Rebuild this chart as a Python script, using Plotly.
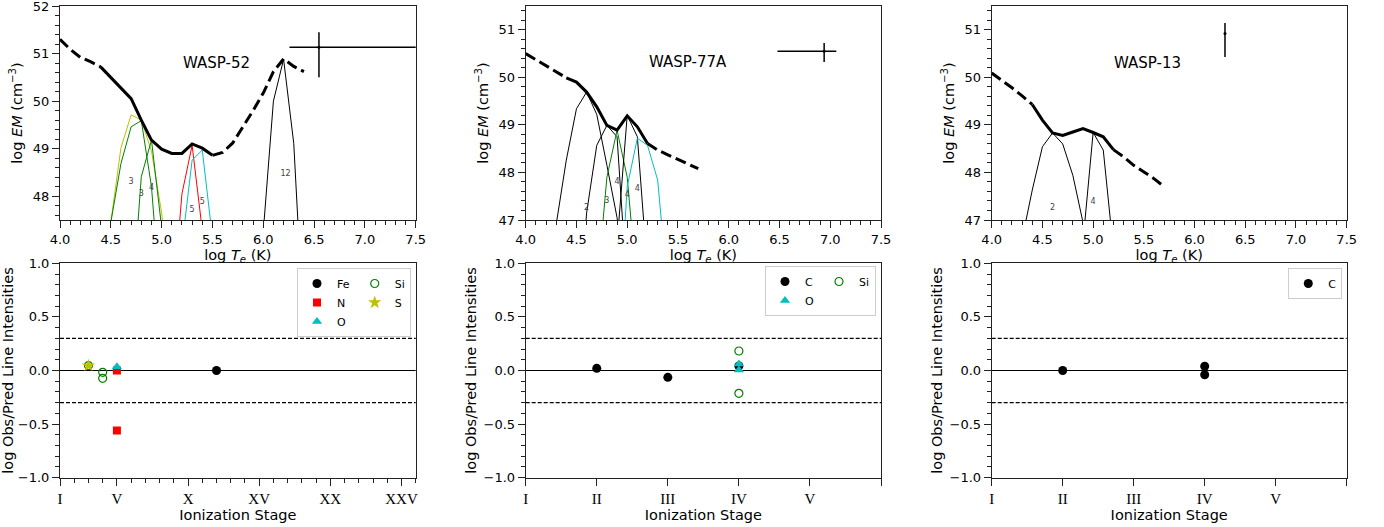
import plotly.graph_objects as go
from plotly.subplots import make_subplots

# ---------------- data: top row (EM distributions) ----------------
logT52 = [4.0, 4.1, 4.2, 4.3, 4.4, 4.5, 4.6, 4.7, 4.8, 4.9, 5.0, 5.1, 5.2,
          5.3, 5.4, 5.5, 5.6, 5.7, 5.8, 5.9, 6.0, 6.1, 6.2, 6.3, 6.4]
em52 = [51.30, 51.09, 50.92, 50.83, 50.72, 50.50, 50.28, 50.05, 49.60, 49.18,
        48.99, 48.90, 48.90, 49.10, 49.01, 48.86, 48.92, 49.12, 49.45, 49.80,
        50.17, 50.62, 50.89, 50.73, 50.62]
solid52 = (4.4, 5.5)

logT77 = [4.0, 4.1, 4.2, 4.3, 4.4, 4.5, 4.6, 4.7, 4.8, 4.9, 5.0, 5.1, 5.2,
          5.3, 5.4, 5.5, 5.6, 5.7]
em77 = [50.50, 50.37, 50.25, 50.11, 49.99, 49.90, 49.69, 49.38, 48.99, 48.89,
        49.19, 48.96, 48.61, 48.47, 48.37, 48.27, 48.17, 48.08]
solid77 = (4.4, 5.2)

logT13 = [4.0, 4.1, 4.2, 4.3, 4.4, 4.5, 4.6, 4.7, 4.8, 4.9, 5.0, 5.1, 5.2,
          5.3, 5.4, 5.5, 5.6, 5.7]
em13 = [50.09, 49.94, 49.78, 49.61, 49.43, 49.10, 48.83, 48.78, 48.85, 48.92,
        48.84, 48.75, 48.48, 48.33, 48.15, 48.01, 47.87, 47.70]
solid13 = (4.4, 5.2)

# contribution curves (color, logT, logEM)
contrib52 = [
    ("#bfbf00", [4.4, 4.5, 4.6, 4.7, 4.8, 4.9, 5.0, 5.1], [45.5, 47.45, 49.02, 49.71, 49.60, 48.95, 47.65, 45.5]),
    ("#008000", [4.4, 4.5, 4.6, 4.7, 4.8, 4.9, 5.0], [45.5, 47.45, 48.69, 49.46, 49.59, 48.2, 45.5]),
    ("#008000", [4.7, 4.8, 4.9, 5.0, 5.1], [45.5, 48.41, 49.18, 47.65, 45.5]),
    ("#ff0000", [5.1, 5.2, 5.3, 5.4, 5.5], [45.5, 48.05, 49.07, 47.45, 45.5]),
    ("#00bfbf", [5.1, 5.2, 5.3, 5.4, 5.5, 5.6], [44.5, 46.96, 48.76, 48.97, 47.13, 44.5]),
    ("#000000", [5.9, 6.0, 6.1, 6.2, 6.3, 6.4], [44.5, 47.3, 50.0, 50.88, 49.11, 45.1]),
]
contrib77 = [
    ("#000000", [4.2, 4.3, 4.4, 4.5, 4.6, 4.7, 4.8, 4.9, 5.0], [44.5, 46.9, 48.26, 49.34, 49.69, 49.22, 48.15, 47.05, 45.0]),
    ("#000000", [4.5, 4.6, 4.7, 4.8, 4.9, 5.0], [44.5, 47.15, 48.57, 48.99, 48.75, 45.5]),
    ("#008000", [4.7, 4.8, 4.9, 5.0, 5.1], [45.5, 47.9, 48.89, 47.9, 45.5]),
    ("#000000", [4.8, 4.9, 5.0, 5.1, 5.2], [42.0, 46.5, 49.2, 48.75, 45.9]),
    ("#00bfbf", [4.9, 5.0, 5.1, 5.2, 5.3, 5.4], [44.2, 47.7, 48.72, 48.57, 47.84, 45.5]),
]
contrib13 = [
    ("#000000", [4.2, 4.3, 4.4, 4.5, 4.6, 4.7, 4.8, 4.9, 5.0], [44.5, 46.6, 47.63, 48.54, 48.83, 48.6, 47.94, 46.95, 45.0]),
    ("#000000", [4.8, 4.9, 5.0, 5.1, 5.2], [42.0, 46.54, 48.84, 48.47, 46.37]),
]

# small ion-stage labels (text, logT, logEM)
lab52_txt = ["3", "3", "4", "5", "5", "12"]
lab52_x = [4.70, 4.80, 4.90, 5.30, 5.40, 6.22]
lab52_y = [48.30, 48.04, 48.17, 47.72, 47.88, 48.46]
lab77_txt = ["2", "3", "4", "4", "4"]
lab77_x = [4.60, 4.80, 4.90, 5.00, 5.10]
lab77_y = [47.25, 47.39, 47.80, 47.53, 47.66]
lab13_txt = ["2", "4"]
lab13_x = [4.60, 5.00]
lab13_y = [47.25, 47.38]

# X-ray points with error bars (x, y, x-, x+, y+, y-)
xr52 = [6.548, 51.13, 0.29, 1.20, 0.32, 0.63]
xr77 = [6.94, 50.55, 0.46, 0.12, 0.17, 0.23]
xr13 = [6.30, 50.92, 0.0, 0.0, 0.22, 0.49]

star_names = ["WASP-52", "WASP-77A", "WASP-13"]
name_x = [5.54, 5.60, 5.54]
name_y = [50.81, 50.32, 50.30]

# ---------------- data: bottom row (residuals) ----------------
# WASP-52
fe52_x, fe52_y = [12], [0.0]
n52_x, n52_y = [5, 5], [0.0, -0.56]
o52_x, o52_y = [5], [0.035]
si52_x, si52_y = [3, 4, 4], [0.046, -0.017, -0.073]
s52_x, s52_y = [3], [0.045]
# WASP-77A
c77_x, c77_y = [2, 3, 4], [0.02, -0.064, 0.042]
o77_x, o77_y = [4, 4], [0.06, 0.005]
si77_x, si77_y = [4, 4], [0.182, -0.213]
# WASP-13
c13_x, c13_y = [2, 4, 4], [0.0, 0.04, -0.04]

roman52_vals = [1, 5, 10, 15, 20, 25]
roman52_text = ["I", "V", "X", "XV", "XX", "XXV"]
roman_vals = [1, 2, 3, 4, 5]
roman_text = ["I", "II", "III", "IV", "V"]
top_tickvals = [[48, 49, 50, 51, 52], [47, 48, 49, 50, 51], [47, 48, 49, 50, 51]]

# ---------------- figure ----------------
W, H = 1384, 527
fig = make_subplots(rows=2, cols=3)

FONT = "DejaVu Sans"
AX = "#222222"

def em_curve(xs, ys, lo, hi, col):
    def seg(cond):
        px = [x for x in xs if cond(x)]
        py = [y for x, y in zip(xs, ys) if cond(x)]
        return px, py
    a = seg(lambda x: x <= lo + 1e-9)
    b = seg(lambda x: lo - 1e-9 <= x <= hi + 1e-9)
    c = seg(lambda x: x >= hi - 1e-9)
    for (px, py), dash in ((a, "11px,5px"), (b, "solid"), (c, "11px,5px")):
        fig.add_trace(go.Scatter(x=px, y=py, mode="lines",
                                 line=dict(color="black", width=3, dash=dash),
                                 showlegend=False, hoverinfo="skip"), row=1, col=col)

tops = [
    (logT52, em52, solid52, contrib52, (lab52_txt, lab52_x, lab52_y), xr52),
    (logT77, em77, solid77, contrib77, (lab77_txt, lab77_x, lab77_y), xr77),
    (logT13, em13, solid13, contrib13, (lab13_txt, lab13_x, lab13_y), xr13),
]
for i, (lt, em, sol, contrib, labs, xr) in enumerate(tops):
    col = i + 1
    for c, xs, ys in contrib:
        fig.add_trace(go.Scatter(x=xs, y=ys, mode="lines", line=dict(color=c, width=1),
                                 showlegend=False, hoverinfo="skip"), row=1, col=col)
    em_curve(lt, em, sol[0], sol[1], col)
    fig.add_trace(go.Scatter(x=labs[1], y=labs[2], text=labs[0], mode="text",
                             textfont=dict(family=FONT, size=8, color="#444444"),
                             showlegend=False, hoverinfo="skip"), row=1, col=col)
    fig.add_trace(go.Scatter(
        x=[xr[0]], y=[xr[1]], mode="markers", marker=dict(color="black", size=3),
        error_x=dict(type="data", symmetric=False, array=[xr[3]], arrayminus=[xr[2]],
                     color="black", thickness=1.5, width=0, visible=xr[2] + xr[3] > 0),
        error_y=dict(type="data", symmetric=False, array=[xr[4]], arrayminus=[xr[5]],
                     color="black", thickness=1.5, width=0),
        showlegend=False, hoverinfo="skip"), row=1, col=col)
    fig.add_annotation(x=name_x[i], y=name_y[i], text=star_names[i], showarrow=False,
                       font=dict(family=FONT, size=15, color="black"),
                       xref=f"x{col if col > 1 else ''}", yref=f"y{col if col > 1 else ''}")

# bottom row markers
def pts(x, y, name, col, legend, group, color, symbol, size, open_=False):
    mk = dict(color=color, symbol=symbol, size=size)
    if open_:
        mk = dict(color="rgba(0,0,0,0)", symbol=symbol, size=size,
                  line=dict(color=color, width=1.2))
    else:
        mk["line"] = dict(width=0)
    fig.add_trace(go.Scatter(x=x, y=y, mode="markers", name=name, marker=mk,
                             legend=legend, legendgroup=group, showlegend=True,
                             hoverinfo="skip"), row=2, col=col)

pts(fe52_x, fe52_y, "Fe", 1, "legend", "a1", "black", "circle", 9)
pts(n52_x, n52_y, "N", 1, "legend", "a1", "#ff0000", "square", 8)
pts(o52_x, o52_y, "O", 1, "legend", "a1", "#00bfbf", "triangle-up", 9)
pts(si52_x, si52_y, "Si", 1, "legend", "a2", "#008000", "circle", 8, open_=True)
pts(s52_x, s52_y, "S", 1, "legend", "a2", "#bfbf00", "star", 10)

pts(c77_x, c77_y, "C", 2, "legend2", "b1", "black", "circle", 9)
pts(o77_x, o77_y, "O", 2, "legend2", "b1", "#00bfbf", "triangle-up", 9)
pts(si77_x, si77_y, "Si", 2, "legend2", "b2", "#008000", "circle", 8, open_=True)

pts(c13_x, c13_y, "C", 3, "legend3", "c1", "black", "circle", 9)

# reference lines on residual plots
for k in (4, 5, 6):
    for yv, dash in ((0.0, "solid"), (0.3, "4px,2px"), (-0.3, "4px,2px")):
        fig.add_shape(type="line", xref=f"x{k} domain", yref=f"y{k}", x0=0, x1=1,
                      y0=yv, y1=yv, line=dict(color="black", width=1.2, dash=dash),
                      layer="below")

# ---------------- layout ----------------
xd = [(60, 415.7), (525.7, 881.0), (991.7, 1346.7)]
top_y = (1 - 220 / H, 1 - 6 / H)
bot_y = (1 - 477.7 / H, 1 - 263.3 / H)

tickfont = dict(family=FONT, size=13, color="black")
titlefont = dict(family=FONT, size=14.5, color="black")
common = dict(showline=True, mirror=True, linecolor=AX, linewidth=1, ticks="outside",
              ticklen=7, tickwidth=1, tickcolor=AX, showgrid=False, zeroline=False,
              tickfont=tickfont, automargin=False, ticklabeloverflow="allow")

layout_axes = {}
yranges_top = [[47.5, 52], [47, 51.5], [47, 51.5]]
for i in range(3):
    a, b = xd[i]
    n = i + 1
    sx = "" if n == 1 else str(n)
    layout_axes[f"xaxis{sx}"] = dict(
        domain=[a / W, b / W], range=[4.0, 7.5], dtick=0.5, tick0=4.0, tickformat=".1f",
        minor=dict(dtick=0.1, tick0=4.0, ticklen=4, tickcolor=AX, ticks="outside"),
        title=dict(text="log <i>T<sub>e</sub></i> (K)", font=titlefont, standoff=0),
        anchor=f"y{sx}", **common)
    layout_axes[f"yaxis{sx}"] = dict(
        domain=list(top_y), range=yranges_top[i], tickmode="array",
        tickvals=top_tickvals[i], ticktext=[str(v) for v in top_tickvals[i]],
        minor=dict(dtick=0.2, tick0=47, ticklen=4, tickcolor=AX, ticks="outside"),
        title=dict(text="log <i>EM</i> (cm<sup>\u22123</sup>)", font=titlefont, standoff=6),
        anchor=f"x{sx}", **common)
    m = i + 4
    if i == 0:
        xt = dict(range=[1, 26], tickmode="array", tickvals=roman52_vals, ticktext=roman52_text,
                  minor=dict(dtick=1, tick0=1, ticklen=4, tickcolor=AX, ticks="outside"))
    else:
        xt = dict(range=[1, 6], tickmode="array", tickvals=roman_vals, ticktext=roman_text,
                  minor=dict(dtick=5, tick0=1, ticklen=7, tickcolor=AX, ticks="outside"))
    c2 = dict(common)
    c2["tickfont"] = dict(family="Liberation Serif", size=15, color="black")
    layout_axes[f"xaxis{m}"] = dict(
        domain=[a / W, b / W],
        title=dict(text="Ionization Stage", font=titlefont, standoff=0),
        anchor=f"y{m}", **xt, **c2)
    layout_axes[f"yaxis{m}"] = dict(
        domain=list(bot_y), range=[-1, 1], dtick=0.5, tick0=-1, tickformat=".1f",
        minor=dict(dtick=0.1, tick0=-1, ticklen=4, tickcolor=AX, ticks="outside"),
        title=dict(text="log Obs/Pred Line Intensities", font=titlefont, standoff=3),
        anchor=f"x{m}", **common)

leg_common = dict(orientation="h", traceorder="grouped", xanchor="right", yanchor="top",
                  bgcolor="rgba(255,255,255,0.9)", bordercolor="#cccccc", borderwidth=1,
                  font=dict(family=FONT, size=11, color="black"), itemwidth=30,
                  tracegroupgap=0)

fig.update_layout(
    width=W, height=H, margin=dict(l=0, r=0, t=0, b=0, autoexpand=False),
    paper_bgcolor="white", plot_bgcolor="white",
    font=dict(family=FONT, color="black"),
    legend=dict(x=411 / W, y=1 - 268 / H, **leg_common),
    legend2=dict(x=876 / W, y=1 - 266 / H, **leg_common),
    legend3=dict(x=1342.3 / W, y=1 - 268 / H, **leg_common),
    **layout_axes,
)

fig.write_html("out.html")
